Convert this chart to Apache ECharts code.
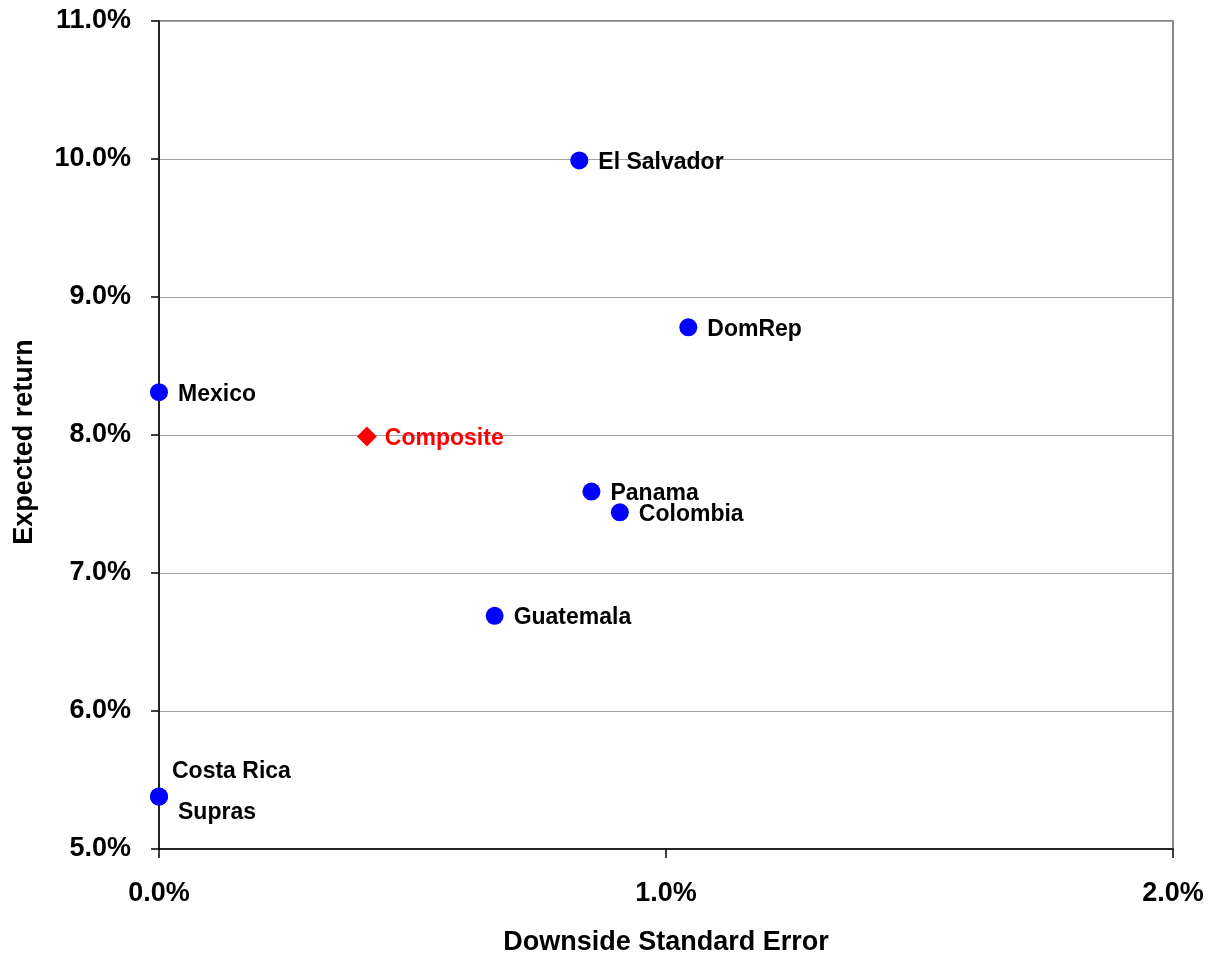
<!DOCTYPE html>
<html>
<head>
<meta charset="utf-8">
<script src="https://cdn.jsdelivr.net/npm/echarts@6/dist/echarts.min.js"></script>
<style>
  html, body { margin: 0; padding: 0; background: #fff; }
  #chart { width: 1215px; height: 961px; }
</style>
</head>
<body>
<div id="chart"></div>
<script>
// Countries: downside standard error (%) vs expected return (%)
const countries   = ['El Salvador', 'DomRep', 'Mexico', 'Panama', 'Colombia', 'Guatemala', 'Costa Rica', 'Supras'];
const downsideErr = [0.829, 1.044, 0.0, 0.853, 0.909, 0.662, 0.0, 0.0];
const expectedRet = [9.99, 8.78, 8.31, 7.59, 7.44, 6.69, 5.38, 5.38];

// Composite portfolio
const compositeName = 'Composite';
const compositeErr  = 0.41;
const compositeRet  = 7.99;

// Axis ranges and titles
const xTicks = { min: 0, max: 2, step: 1 };
const yTicks = { min: 5, max: 11, step: 1 };
const xTitle = 'Downside Standard Error';
const yTitle = 'Expected return';

const FONT = "'Liberation Sans', Arial, Helvetica, sans-serif";

// Custom label placement for the two coincident points at the origin
const labelOverrides = {
  'Costa Rica': { position: 'right', distance: 0, offset: [4, -25] },
  'Supras':     { position: 'right', distance: 0, offset: [10, 16] }
};

const countryData = countries.map((name, i) => {
  const item = { name: name, value: [downsideErr[i], expectedRet[i]] };
  if (labelOverrides[name]) item.label = labelOverrides[name];
  return item;
});

const chart = echarts.init(document.getElementById('chart'), null, { renderer: 'canvas' });

chart.setOption({
  animation: false,
  backgroundColor: '#ffffff',
  grid: {
    left: 159, right: 42, top: 21, bottom: 112,
    show: true, borderColor: '#888888', borderWidth: 2, backgroundColor: 'transparent'
  },
  xAxis: {
    type: 'value',
    min: xTicks.min, max: xTicks.max, interval: xTicks.step,
    name: xTitle,
    nameLocation: 'middle',
    nameGap: 80,
    nameTextStyle: { fontFamily: FONT, fontWeight: 'bold', fontSize: 27, color: '#000' },
    axisLine: { show: true, onZero: false, lineStyle: { color: '#000', width: 1.5 } },
    axisTick: { show: true, inside: false, length: 9, lineStyle: { color: '#000', width: 1.5 } },
    axisLabel: {
      margin: 31,
      fontFamily: FONT, fontWeight: 'bold', fontSize: 27, color: '#000',
      formatter: v => v.toFixed(1) + '%'
    },
    splitLine: { show: false }
  },
  yAxis: {
    type: 'value',
    min: yTicks.min, max: yTicks.max, interval: yTicks.step,
    name: yTitle,
    nameLocation: 'middle',
    nameGap: 121,
    nameRotate: 90,
    nameTextStyle: { fontFamily: FONT, fontWeight: 'bold', fontSize: 27, color: '#000', padding: [0, 14, 0, 0] },
    axisLine: { show: true, onZero: false, lineStyle: { color: '#000', width: 1.5 } },
    axisTick: { show: true, inside: false, length: 8, lineStyle: { color: '#000', width: 1.5 } },
    axisLabel: {
      margin: 28,
      fontFamily: FONT, fontWeight: 'bold', fontSize: 27, color: '#000',
      padding: [6, 0, 0, 0],
      formatter: v => v.toFixed(1) + '%'
    },
    splitLine: { show: true, lineStyle: { color: '#a0a0a0', width: 1.2 } }
  },
  series: [
    {
      name: 'Countries',
      type: 'scatter',
      clip: false,
      symbol: 'circle',
      symbolSize: 18,
      itemStyle: { color: '#0000ff', opacity: 1 },
      label: {
        show: true,
        position: 'right',
        distance: 10,
        offset: [0, 2],
        formatter: p => p.name,
        fontFamily: FONT, fontWeight: 'bold', fontSize: 23, color: '#000000'
      },
      data: countryData
    },
    {
      name: compositeName,
      type: 'scatter',
      clip: false,
      symbol: 'diamond',
      symbolSize: 20,
      itemStyle: { color: '#ff0000', opacity: 1 },
      label: {
        show: true,
        position: 'right',
        distance: 8,
        offset: [0, 2],
        formatter: p => p.name,
        fontFamily: FONT, fontWeight: 'bold', fontSize: 23, color: '#ff0000'
      },
      data: [{ name: compositeName, value: [compositeErr, compositeRet] }]
    }
  ]
});
</script>
</body>
</html>
